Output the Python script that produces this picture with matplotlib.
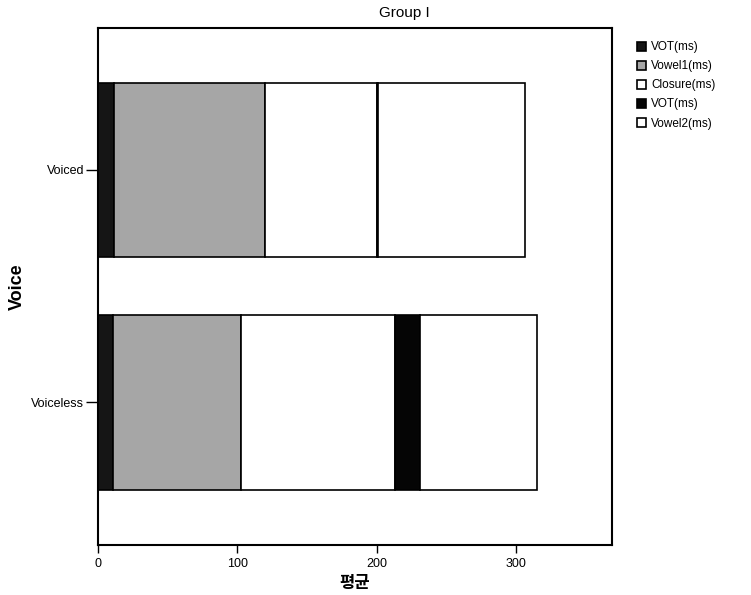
import matplotlib
matplotlib.use('Agg')
import matplotlib.pyplot as plt
import numpy as np

plt.rcParams['font.family'] = ['Liberation Sans', 'Noto Sans CJK KR']

# datos
categorias = ['Voiceless', 'Voiced']
vot1 = [10.4, 11.8]
vowel1 = [91.9, 107.7]
closure = [110.5, 80.5]
vot2 = [18.0, 1.0]
vowel2 = [84.0, 105.2]
etiquetas = ['VOT(ms)', 'Vowel1(ms)', 'Closure(ms)', 'VOT(ms)', 'Vowel2(ms)']
colores = ['#151515', '#a6a6a6', 'white', '#050505', 'white']

fig = plt.figure(figsize=(7.51, 5.95), dpi=100)
ax = fig.add_axes([0.1305, 0.084, 0.6844, 0.869])

y = np.arange(len(categorias))
left = np.zeros(len(categorias))
for vals, col, lab in zip([vot1, vowel1, closure, vot2, vowel2], colores, etiquetas):
    ax.barh(y, vals, left=left, height=0.754, color=col, edgecolor='black',
            linewidth=1.2, label=lab)
    left = left + np.array(vals)

ax.set_xlim(0, 368.6)
ax.set_ylim(-0.616, 1.612)
ax.set_yticks(y)
ax.set_yticklabels(categorias, fontsize=9)
ax.set_xticks([0, 100, 200, 300])
ax.tick_params(axis='x', labelsize=9, length=6, width=1)
ax.tick_params(axis='y', length=9, width=1, pad=1)
for s in ax.spines.values():
    s.set_linewidth(1.5)

ax.set_xlabel('평균', fontsize=12, fontweight='bold', labelpad=4)
ax.set_ylabel('Voice', fontsize=13, fontweight='bold', labelpad=4)
fig.text(0.539, 0.966, 'Group I', fontsize=11, ha='center', va='bottom')

ax.legend(loc='upper left', bbox_to_anchor=(1.028, 0.995), frameon=False, fontsize=8.5,
          handlelength=0.8, handleheight=0.8, handletextpad=0.4, labelspacing=0.6)

fig.savefig('out.png', dpi=100)
